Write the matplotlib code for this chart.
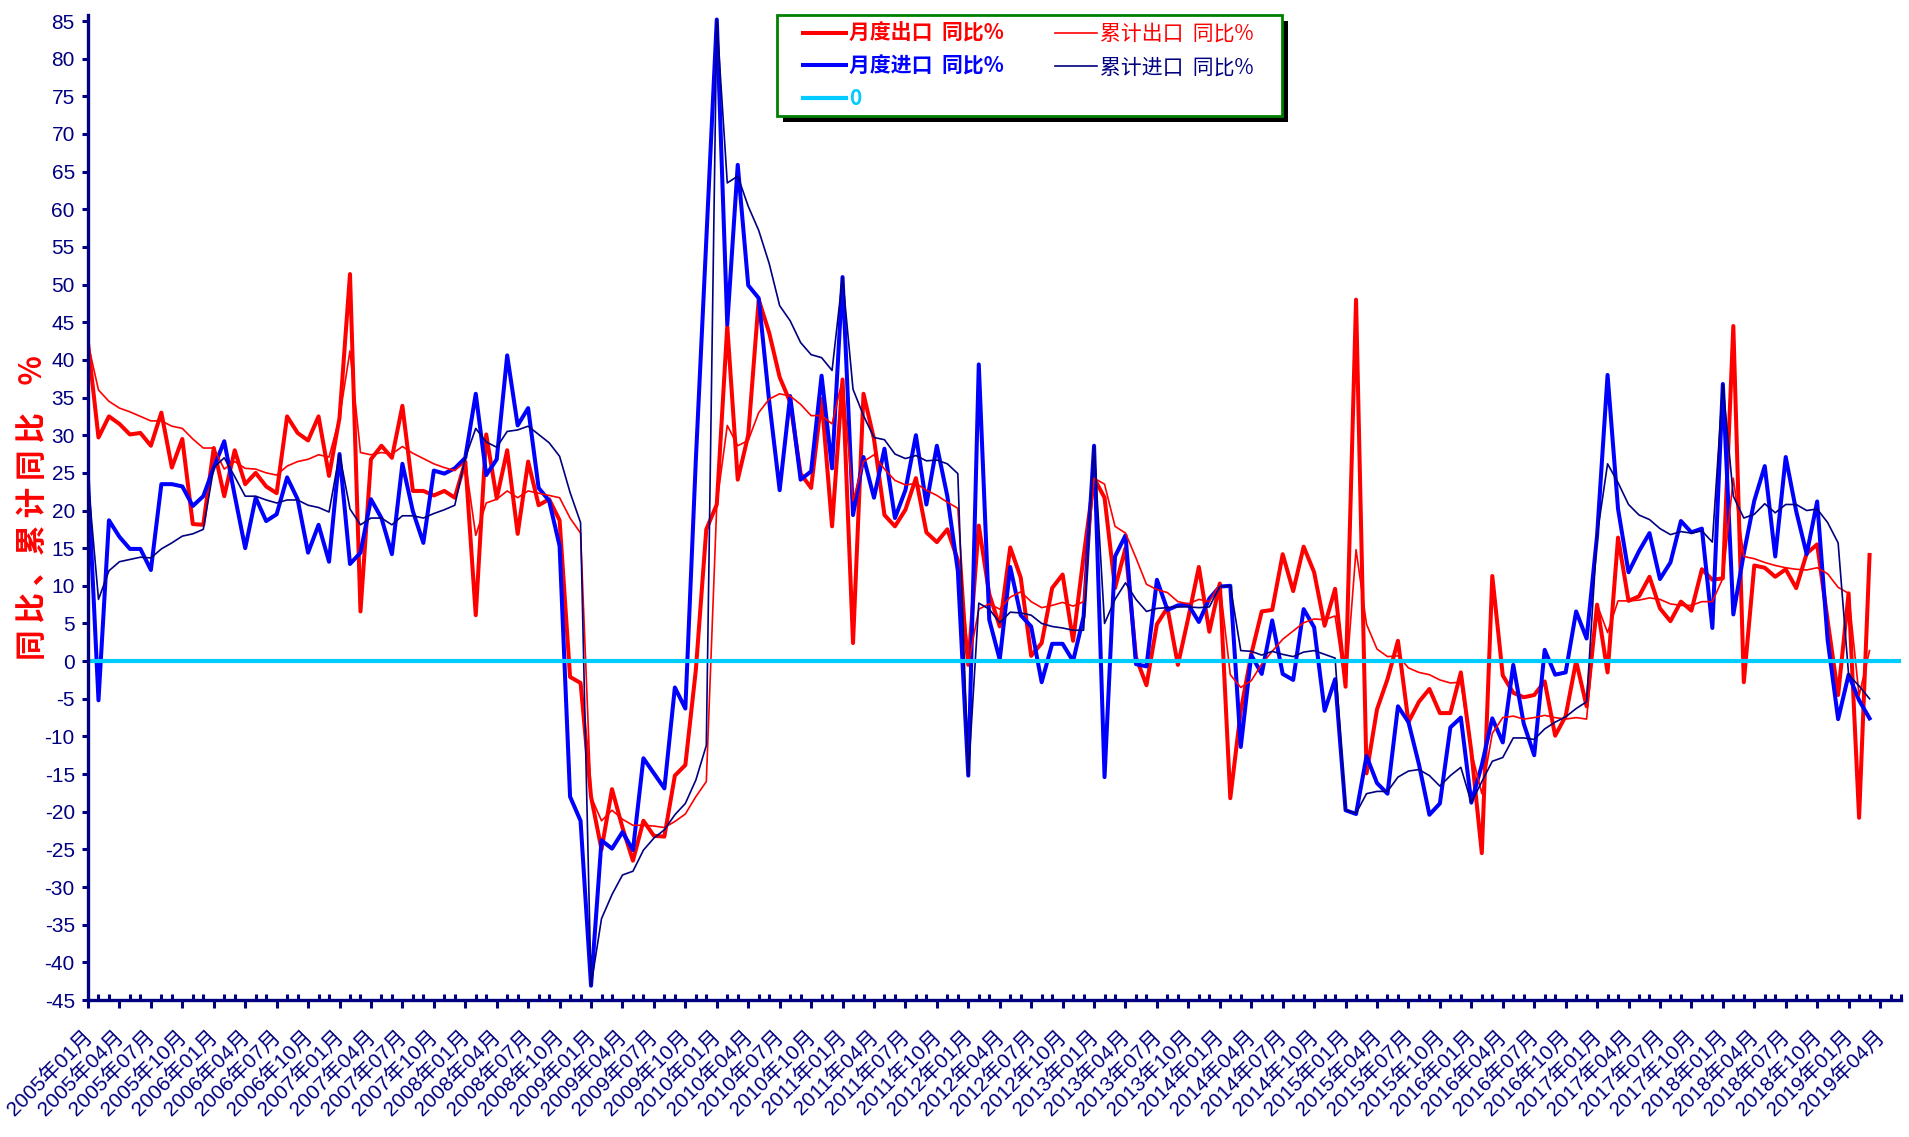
import matplotlib
matplotlib.use('Agg')
import matplotlib.pyplot as plt
import matplotlib.transforms as mtransforms
from matplotlib.patches import Rectangle
import numpy as np

plt.rcParams['font.family'] = ['Liberation Sans', 'Noto Sans CJK SC', 'DejaVu Sans']
plt.rcParams['axes.unicode_minus'] = False

# monthly data 2005-01 .. 2019-03, yoy %
ex_month = [
    42.2, 29.7, 32.5, 31.5, 30.1, 30.3, 28.6, 33.0, 25.7, 29.5, 18.2, 18.1,
    28.3, 21.9, 28.0, 23.5, 25.0, 23.2, 22.3, 32.5, 30.3, 29.3, 32.5, 24.6,
    32.3, 51.4, 6.6, 26.8, 28.6, 27.0, 33.9, 22.6, 22.6, 22.0, 22.6, 21.7,
    26.5, 6.1, 30.1, 21.6, 28.0, 16.9, 26.5, 20.7, 21.5, 18.7, -2.1, -2.9,
    -18.0, -25.0, -17.0, -22.1, -26.5, -21.2, -23.2, -23.3, -15.2, -13.8, -1.2, 17.5,
    20.8, 44.5, 24.1, 30.0, 48.0, 43.6, 37.7, 34.4, 24.9, 23.0, 34.8, 17.9,
    37.4, 2.4, 35.5, 29.5, 19.4, 17.9, 20.1, 24.3, 17.1, 15.8, 17.5, 13.4,
    -0.5, 18.0, 8.9, 4.6, 15.1, 11.1, 0.7, 2.4, 9.7, 11.5, 2.7, 13.9,
    24.3, 21.7, 9.7, 15.0, 0.5, -3.2, 4.9, 7.1, -0.5, 5.8, 12.5, 3.9,
    10.3, -18.2, -6.6, 0.9, 6.6, 6.8, 14.2, 9.3, 15.2, 11.8, 4.7, 9.6,
    -3.4, 48.0, -14.9, -6.4, -2.4, 2.7, -8.1, -5.4, -3.7, -6.9, -6.9, -1.5,
    -12.0, -25.5, 11.3, -1.9, -4.2, -4.8, -4.5, -2.7, -9.9, -7.3, 0.0, -6.0,
    7.5, -1.5, 16.4, 8.0, 8.6, 11.2, 7.0, 5.3, 7.9, 6.7, 12.2, 10.8,
    11.0, 44.5, -2.8, 12.7, 12.4, 11.2, 12.2, 9.7, 14.3, 15.5, 5.4, -4.5,
    9.0, -20.8, 14.1,
]
im_month = [
    24.1, -5.2, 18.7, 16.5, 14.9, 14.9, 12.1, 23.5, 23.5, 23.2, 20.6, 21.9,
    25.7, 29.2, 22.0, 15.0, 21.7, 18.6, 19.5, 24.4, 21.5, 14.4, 18.1, 13.2,
    27.5, 12.9, 14.4, 21.5, 19.0, 14.2, 26.2, 19.9, 15.7, 25.3, 24.9, 25.6,
    27.0, 35.5, 24.7, 26.8, 40.6, 31.3, 33.6, 23.0, 21.3, 15.3, -18.0, -21.2,
    -43.1, -23.8, -24.9, -22.7, -25.1, -12.9, -14.9, -16.9, -3.5, -6.3, 26.7, 55.9,
    85.2, 44.7, 65.9, 49.9, 48.2, 34.5, 22.7, 35.2, 24.1, 25.2, 37.9, 25.6,
    51.0, 19.4, 27.1, 21.7, 28.2, 19.0, 22.7, 30.0, 20.8, 28.6, 21.9, 12.0,
    -15.2, 39.4, 5.5, 0.2, 12.5, 6.1, 4.6, -2.8, 2.3, 2.3, 0.0, 5.9,
    28.6, -15.4, 13.9, 16.7, -0.4, -0.7, 10.8, 6.8, 7.4, 7.5, 5.2, 8.3,
    9.9, 10.0, -11.4, 0.8, -1.7, 5.4, -1.7, -2.5, 6.9, 4.5, -6.6, -2.4,
    -19.8, -20.3, -12.6, -16.2, -17.6, -6.0, -8.1, -13.7, -20.4, -18.9, -8.8, -7.5,
    -18.8, -13.8, -7.6, -10.8, -0.5, -8.3, -12.5, 1.5, -1.8, -1.5, 6.6, 3.0,
    16.7, 38.0, 20.2, 11.8, 14.6, 17.0, 10.9, 13.1, 18.6, 17.1, 17.6, 4.4,
    36.8, 6.2, 14.3, 21.3, 25.9, 13.9, 27.1, 19.9, 14.2, 21.2, 2.8, -7.7,
    -1.8, -5.2, -7.6,
]
ex_cum = [
    42.2, 36.0, 34.5, 33.6, 33.1, 32.5, 31.9, 31.9, 31.2, 30.9, 29.5, 28.3,
    28.3, 25.5, 26.5, 25.6, 25.5, 25.0, 24.7, 25.9, 26.5, 26.8, 27.4, 27.1,
    32.3, 41.2, 27.7, 27.4, 27.7, 27.5, 28.5, 27.6, 26.9, 26.2, 25.7, 25.3,
    26.5, 16.7, 21.0, 21.5, 22.6, 21.7, 22.6, 22.3, 22.0, 21.7, 19.0, 17.0,
    -18.0, -21.2, -19.8, -21.0, -21.8, -21.8, -21.9, -22.1, -21.3, -20.3, -18.0, -16.0,
    20.8, 31.3, 28.6, 29.3, 33.0, 34.8, 35.5, 35.2, 34.1, 32.6, 32.6, 31.5,
    37.4, 21.3, 26.5, 27.4, 25.5, 24.0, 23.4, 23.6, 22.7, 22.0, 21.1, 20.3,
    -0.5, 6.9, 7.6, 6.9, 8.5, 9.2, 7.9, 7.1, 7.4, 7.8, 7.3, 7.9,
    24.3, 23.5, 17.9, 17.0, 13.7, 10.2, 9.5, 9.1, 7.9, 7.6, 8.2, 7.9,
    10.3, -1.8, -3.5, -2.6, -0.4, 1.3, 2.9, 4.0, 5.1, 5.6, 5.5, 6.0,
    -3.4, 14.8, 4.9, 1.6, 0.6, 0.7, -0.9, -1.5, -1.8, -2.5, -2.9, -2.8,
    -12.0, -17.6, -9.6, -7.5, -7.3, -7.7, -7.5, -7.2, -7.5, -7.7, -7.5, -7.7,
    7.5, 3.8, 8.0, 8.0, 8.1, 8.4, 8.2, 7.6, 7.4, 7.4, 7.9, 7.9,
    11.0, 24.3, 13.9, 13.6, 13.1, 12.7, 12.4, 12.2, 12.1, 12.4, 11.6, 9.8,
    9.0, -4.6, 1.4,
]
im_cum = [
    24.1, 8.2, 12.0, 13.2, 13.5, 13.8, 13.7, 14.9, 15.7, 16.6, 16.9, 17.5,
    25.7, 27.0, 24.5, 21.9, 21.9, 21.4, 21.0, 21.4, 21.4, 20.7, 20.4, 19.8,
    27.5, 20.2, 18.1, 19.0, 19.0, 18.1, 19.3, 19.3, 19.0, 19.6, 20.1, 20.7,
    27.0, 30.9, 29.1, 28.4, 30.5, 30.7, 31.2, 30.1, 29.0, 27.2, 22.4, 18.4,
    -43.1, -34.2, -31.0, -28.4, -27.9, -25.1, -23.5, -22.4, -20.4, -18.9, -15.8, -11.2,
    85.2, 63.5, 64.4, 60.4, 57.2, 52.8, 47.2, 45.2, 42.3, 40.7, 40.3, 38.6,
    51.0, 36.1, 32.6, 29.7, 29.4, 27.5, 26.9, 27.3, 26.6, 26.7, 26.2, 24.9,
    -15.2, 7.7, 6.9, 5.1, 6.5, 6.4, 6.1, 5.0, 4.6, 4.4, 4.1, 4.1,
    28.6, 5.0, 8.2, 10.4, 8.2, 6.6, 7.0, 7.1, 7.2, 7.2, 7.1, 7.2,
    9.9, 10.0, 1.4, 1.3, 0.8, 1.3, 0.9, 0.6, 1.2, 1.4, 0.9, 0.4,
    -19.8, -20.2, -17.6, -17.3, -17.3, -15.4, -14.6, -14.4, -15.2, -16.6, -15.2, -14.1,
    -18.8, -16.0, -13.3, -12.8, -10.2, -10.2, -10.4, -9.0, -8.1, -7.4, -6.3, -5.4,
    16.7, 26.2, 23.7, 20.8, 19.4, 18.8, 17.6, 16.8, 17.2, 17.0, 17.3, 15.8,
    36.8, 21.9, 19.0, 19.5, 20.9, 19.7, 20.8, 20.8, 20.0, 20.2, 18.4, 15.7,
    -1.8, -3.3, -5.0,
]

# category axis runs 2005-01 .. 2019-06
months = [f'{y}年{m:02d}月' for y in range(2005, 2020) for m in range(1, 13)][:174]
zero_line = [0] * len(months)

navy = '#000080'
W, H = 1909, 1137
fig = plt.figure(figsize=(W / 100, H / 100), dpi=100)
ax = fig.add_axes([88 / W, 1 - 1000 / H, (1901 - 88) / W, (1000 - 15) / H])

x = np.arange(len(ex_month))
l1, = ax.plot(x, ex_month, color='#FF0000', lw=2.9, label='月度出口  同比%')
l2, = ax.plot(x, im_month, color='#0000FF', lw=2.9, label='月度进口  同比%')
l3, = ax.plot(x, ex_cum, color='#FF0000', lw=1.2, label='累计出口  同比%')
l4, = ax.plot(x, im_cum, color=navy, lw=1.2, label='累计进口  同比%')
l5, = ax.plot(np.arange(len(months)), zero_line, color='#00CCFF', lw=3.0, label='0')

ax.set_xlim(0, len(months) - 1)
ax.set_ylim(-45, 85.8)

for s in ['top', 'right']:
    ax.spines[s].set_visible(False)
for s in ['left', 'bottom']:
    ax.spines[s].set_color(navy)
    ax.spines[s].set_linewidth(2.4)

ax.set_yticks(range(-45, 90, 5))
ax.tick_params(axis='y', direction='out', length=4.5, width=2.2, color=navy,
               labelcolor=navy, labelsize=15, pad=5)

ax.set_xticks(range(0, len(months), 3))
ax.set_xticks([i for i in range(len(months)) if i % 3], minor=True)
ax.set_xticklabels(months[::3], rotation=45, ha='right', va='top',
                   rotation_mode='anchor')
ax.tick_params(axis='x', which='major', direction='out', length=6, width=2.2,
               color=navy, labelcolor=navy, labelsize=15, pad=13)
ax.tick_params(axis='x', which='minor', direction='in', length=4, width=2.2,
               color=navy)
shift = mtransforms.ScaledTranslation(-6 / 100, 0, fig.dpi_scale_trans)
for lab in ax.get_xticklabels():
    lab.set_transform(lab.get_transform() + shift)

ax.set_ylabel('同 比 、累 计 同 比    %', color='#FF0000', fontsize=22,
              fontweight='bold', family=['Noto Sans CJK SC'])
ax.yaxis.set_label_coords(-0.0215, 0.5)

# legend box with black drop shadow
ax.add_patch(Rectangle((783 / W, 1 - 122 / H), 505 / W, 101 / H,
                       transform=fig.transFigure, facecolor='black',
                       edgecolor='none', clip_on=False, zorder=4))
ax.add_patch(Rectangle((777 / W, 1 - 116 / H), 505 / W, 101 / H,
                       transform=fig.transFigure, facecolor='white',
                       edgecolor='#008000', lw=2, clip_on=False, zorder=4.5))

handles = [l1, l2, l5, l3, l4]
leg = ax.legend(handles, [h.get_label() for h in handles],
                ncol=2, loc='upper left', bbox_to_anchor=(803 / W, 1 - 23 / H),
                bbox_transform=fig.transFigure, frameon=False,
                prop={'family': ['Noto Sans CJK SC'], 'size': 15},
                handlelength=2.05, handletextpad=0.15, columnspacing=2.45,
                labelspacing=0.55, borderpad=0, borderaxespad=0)
colors = ['#FF0000', '#0000FF', '#00CCFF', '#FF0000', navy]
for i, (t, c) in enumerate(zip(leg.get_texts(), colors)):
    t.set_color(c)
    if i < 3:
        t.set_fontweight('bold')

fig.savefig('out.png', dpi=100)
